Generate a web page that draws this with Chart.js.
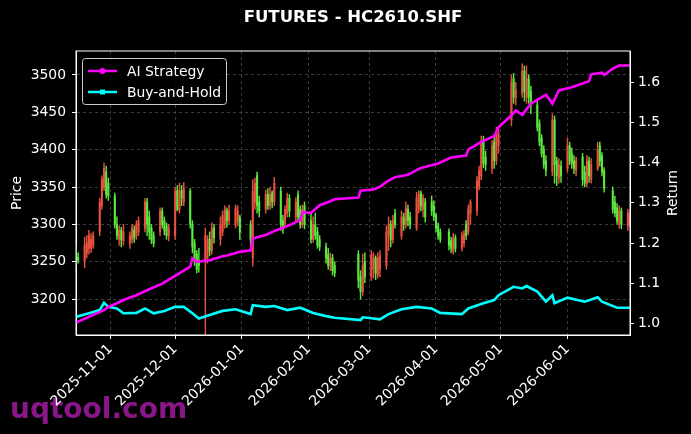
<!DOCTYPE html>
<html lang="en">
<head>
    <meta charset="UTF-8">
    <title>FUTURES - HC2610.SHF</title>
    <script src="https://cdn.jsdelivr.net/npm/chart.js"></script>
    <style>
        html, body { margin: 0; padding: 0; background: #000; }
        canvas { display: block; }
    </style>
</head>
<body>
    <canvas id="chart" width="691" height="434"></canvas>

    <script>
        // daily candles (trading days only)
        const dates = [
            '2025-10-16','2025-10-17','2025-10-20','2025-10-21','2025-10-22','2025-10-23','2025-10-24','2025-10-27','2025-10-28','2025-10-29','2025-10-30','2025-10-31',
            '2025-11-03','2025-11-04','2025-11-05','2025-11-06','2025-11-07','2025-11-10','2025-11-11','2025-11-12','2025-11-13','2025-11-14',
            '2025-11-17','2025-11-18','2025-11-19','2025-11-20','2025-11-21','2025-11-24','2025-11-25','2025-11-26','2025-11-27','2025-11-28',
            '2025-12-01','2025-12-02','2025-12-03','2025-12-04','2025-12-05','2025-12-08','2025-12-09','2025-12-10','2025-12-11','2025-12-12',
            '2025-12-15','2025-12-16','2025-12-17','2025-12-18','2025-12-19','2025-12-22','2025-12-23','2025-12-24','2025-12-25','2025-12-26',
            '2025-12-29','2025-12-30','2025-12-31',
            '2026-01-05','2026-01-06','2026-01-07','2026-01-08','2026-01-09','2026-01-12','2026-01-13','2026-01-14','2026-01-15','2026-01-16',
            '2026-01-19','2026-01-20','2026-01-21','2026-01-22','2026-01-23','2026-01-26','2026-01-27','2026-01-28','2026-01-29','2026-01-30',
            '2026-02-02','2026-02-03','2026-02-04','2026-02-05','2026-02-06','2026-02-09','2026-02-10','2026-02-11','2026-02-12','2026-02-13',
            '2026-02-24','2026-02-25','2026-02-26','2026-02-27',
            '2026-03-02','2026-03-03','2026-03-04','2026-03-05','2026-03-06','2026-03-09','2026-03-10','2026-03-11','2026-03-12','2026-03-13',
            '2026-03-16','2026-03-17','2026-03-18','2026-03-19','2026-03-20','2026-03-23','2026-03-24','2026-03-25','2026-03-26','2026-03-27',
            '2026-03-30','2026-03-31',
            '2026-04-01','2026-04-02','2026-04-03','2026-04-07','2026-04-08','2026-04-09','2026-04-10','2026-04-13','2026-04-14','2026-04-15',
            '2026-04-16','2026-04-17','2026-04-20','2026-04-21','2026-04-22','2026-04-23','2026-04-24','2026-04-27','2026-04-28','2026-04-29',
            '2026-04-30',
            '2026-05-06','2026-05-07','2026-05-08','2026-05-11','2026-05-12','2026-05-13','2026-05-14','2026-05-15','2026-05-18','2026-05-19',
            '2026-05-20','2026-05-21','2026-05-22','2026-05-25','2026-05-26','2026-05-27','2026-05-28','2026-05-29',
            '2026-06-01','2026-06-02','2026-06-03','2026-06-04','2026-06-05','2026-06-08','2026-06-09','2026-06-10','2026-06-11','2026-06-12',
            '2026-06-15','2026-06-16','2026-06-17','2026-06-18','2026-06-22','2026-06-23','2026-06-24','2026-06-25','2026-06-26','2026-06-29',
            '2026-06-30'
        ];
        const opens = [
            3268,3256,3252,3262,3268,3268,3272,3290,3325,3350,3370,3355,
            3338,3300,3280,3292,3278,3275,3280,3292,3285,3290,
            3295,3330,3310,3295,3285,3290,3318,3305,3298,3285,
            3285,3345,3320,3345,3330,3345,3300,3275,3260,3250,
            3250,3255,3280,3265,3295,3280,3290,3300,3318,3305,
            3300,3305,3310,
            3300,3255,3330,3365,3330,3320,3340,3325,3342,3330,
            3345,3305,3300,3315,3335,3310,3340,3320,3300,3325,
            3305,3280,3300,3290,3280,3270,3260,3245,3255,3245,
            3260,3230,3210,3250,
            3230,3240,3255,3232,3240,3245,3285,3300,3280,3315,
            3285,3310,3300,3320,3310,3295,3320,3342,3320,3330,
            3330,3325,
            3312,3298,3290,3290,3278,3265,3282,3268,3275,3300,
            3290,3315,3318,3350,3365,3412,3390,3375,3410,3385,
            3405,
            3440,3495,3470,3475,3505,3470,3495,3478,3460,3435,
            3415,3400,3385,3370,3440,3385,3362,3378,
            3375,3405,3395,3385,3372,3390,3370,3355,3385,3360,
            3375,3405,3392,3372,3345,3330,3322,3302,3318,3298,
            3300
        ];
        const highs = [
            3272,3262,3283,3285,3292,3288,3290,3335,3365,3382,3378,3362,
            3342,3310,3298,3296,3300,3290,3300,3298,3305,3310,
            3335,3335,3318,3300,3290,3322,3322,3310,3302,3300,
            3350,3352,3355,3352,3356,3348,3305,3280,3265,3268,
            3295,3285,3290,3302,3300,3310,3318,3325,3322,3326,
            3326,3325,3312,
            3305,3360,3362,3370,3338,3346,3348,3350,3345,3363,
            3350,3312,3325,3342,3340,3336,3345,3325,3326,3330,
            3315,3310,3315,3296,3285,3275,3268,3262,3260,3250,
            3265,3238,3260,3262,
            3265,3262,3258,3262,3265,3298,3310,3305,3312,3320,
            3318,3315,3330,3326,3316,3343,3345,3345,3340,3335,
            3338,3332,
            3315,3302,3294,3294,3283,3288,3286,3290,3292,3305,
            3326,3333,3364,3378,3418,3418,3398,3412,3416,3430,
            3428,
            3500,3502,3490,3515,3512,3512,3500,3485,3465,3440,
            3420,3405,3392,3448,3445,3390,3388,3385,
            3415,3410,3402,3392,3390,3395,3378,3392,3390,3388,
            3410,3410,3396,3376,3350,3338,3328,3325,3322,3320,
            3318
        ];
        const lows = [
            3245,3248,3242,3255,3260,3262,3268,3285,3320,3345,3335,3332,
            3295,3280,3272,3270,3272,3268,3275,3276,3280,3285,
            3290,3285,3280,3274,3270,3285,3295,3286,3280,3278,
            3280,3318,3315,3325,3325,3295,3262,3245,3235,3236,
            3140,3248,3258,3260,3275,3272,3285,3295,3296,3300,
            3295,3298,3280,
            3272,3244,3320,3315,3310,3315,3320,3320,3322,3325,
            3292,3288,3295,3310,3310,3305,3305,3295,3296,3294,
            3275,3276,3280,3268,3265,3248,3240,3238,3232,3230,
            3215,3200,3205,3222,
            3225,3228,3226,3228,3230,3240,3265,3270,3275,3295,
            3280,3292,3295,3298,3294,3292,3315,3318,3310,3303,
            3312,3305,
            3290,3280,3276,3266,3262,3260,3263,3264,3270,3280,
            3286,3300,3312,3346,3360,3376,3372,3368,3375,3380,
            3395,
            3432,3462,3460,3470,3465,3462,3462,3448,3425,3405,
            3390,3375,3365,3365,3355,3352,3355,3356,
            3370,3380,3375,3368,3365,3352,3350,3350,3356,3355,
            3372,3378,3365,3343,3315,3310,3300,3295,3294,3292,
            3296
        ];
        const closes = [
            3250,3252,3272,3275,3285,3280,3285,3330,3360,3375,3340,3338,
            3300,3285,3292,3280,3290,3285,3295,3282,3300,3305,
            3330,3300,3290,3280,3275,3318,3300,3292,3285,3295,
            3345,3320,3345,3335,3348,3300,3270,3255,3240,3245,
            3285,3280,3265,3295,3282,3300,3312,3320,3305,3318,
            3322,3318,3290,
            3280,3345,3355,3325,3318,3340,3325,3340,3330,3355,
            3300,3295,3320,3335,3318,3330,3310,3300,3320,3300,
            3280,3300,3285,3272,3270,3255,3245,3255,3238,3235,
            3225,3210,3245,3230,
            3260,3255,3235,3255,3258,3290,3300,3280,3305,3300,
            3310,3300,3322,3305,3300,3335,3340,3325,3335,3310,
            3318,3310,
            3295,3285,3280,3272,3268,3282,3268,3285,3288,3285,
            3320,3330,3358,3372,3410,3382,3380,3405,3385,3420,
            3422,
            3490,3470,3480,3505,3478,3495,3470,3462,3430,3410,
            3395,3380,3372,3440,3380,3365,3380,3365,
            3405,3385,3382,3375,3385,3360,3355,3385,3365,3380,
            3400,3385,3370,3348,3320,3315,3305,3318,3300,3315,
            3312
        ];

        // equity curves, read at the dates where they change shape
        const aiDates = [
            '2025-10-16','2025-10-22','2025-10-29','2025-10-31','2025-11-04','2025-11-07','2025-11-13','2025-11-19','2025-11-25','2025-12-01',
            '2025-12-04','2025-12-08','2025-12-09','2025-12-11','2025-12-17','2025-12-23','2025-12-26','2025-12-31','2026-01-05','2026-01-06',
            '2026-01-12','2026-01-16','2026-01-22','2026-01-28','2026-01-29','2026-02-02','2026-02-06','2026-02-11','2026-02-13','2026-02-24',
            '2026-02-25','2026-03-03','2026-03-06','2026-03-09','2026-03-13','2026-03-19','2026-03-25','2026-04-02','2026-04-08','2026-04-15',
            '2026-04-16','2026-04-22','2026-04-27','2026-04-28','2026-04-30','2026-05-06','2026-05-08','2026-05-11','2026-05-15','2026-05-22',
            '2026-05-25','2026-05-28','2026-06-03','2026-06-10','2026-06-11','2026-06-12','2026-06-17','2026-06-18','2026-06-22','2026-06-25',
            '2026-06-30'
        ];
        const aiValues = [
            1.002,1.016,1.033,1.041,1.050,1.058,1.070,1.085,1.099,1.118,
            1.128,1.141,1.162,1.153,1.157,1.167,1.170,1.178,1.182,1.211,
            1.220,1.230,1.242,1.257,1.277,1.275,1.294,1.304,1.309,1.313,
            1.330,1.333,1.340,1.352,1.364,1.370,1.387,1.398,1.413,1.418,
            1.433,1.452,1.464,1.466,1.488,1.518,1.530,1.519,1.547,1.569,
            1.547,1.580,1.588,1.601,1.603,1.620,1.624,1.618,1.634,1.642,
            1.642
        ];
        const bhDates = [
            '2025-10-16','2025-10-22','2025-10-27','2025-10-29','2025-10-31','2025-11-04','2025-11-07','2025-11-13','2025-11-17','2025-11-21',
            '2025-11-26','2025-12-01','2025-12-05','2025-12-09','2025-12-12','2025-12-17','2025-12-23','2025-12-29','2026-01-05','2026-01-06',
            '2026-01-12','2026-01-16','2026-01-22','2026-01-28','2026-02-03','2026-02-09','2026-02-13','2026-02-25','2026-02-26','2026-03-03',
            '2026-03-06','2026-03-10','2026-03-16','2026-03-23','2026-03-30','2026-04-03','2026-04-13','2026-04-16','2026-04-23','2026-04-28',
            '2026-04-30','2026-05-07','2026-05-11','2026-05-13','2026-05-18','2026-05-22','2026-05-25','2026-05-26','2026-06-01','2026-06-09',
            '2026-06-15','2026-06-17','2026-06-24','2026-06-30'
        ];
        const bhValues = [
            1.016,1.025,1.033,1.051,1.041,1.037,1.025,1.026,1.037,1.025,
            1.031,1.041,1.041,1.025,1.012,1.021,1.031,1.035,1.023,1.045,
            1.041,1.043,1.033,1.039,1.026,1.018,1.014,1.008,1.015,1.012,
            1.010,1.023,1.035,1.041,1.037,1.026,1.023,1.037,1.050,1.058,
            1.070,1.091,1.087,1.093,1.079,1.054,1.070,1.050,1.064,1.054,
            1.065,1.054,1.039,1.039
        ];

        const monthTicks = ['2025-11-01','2025-12-01','2026-01-01','2026-02-01','2026-03-01','2026-04-01','2026-05-01','2026-06-01'];
        const priceTicks = [3200, 3250, 3300, 3350, 3400, 3450, 3500];
        const returnTicks = [1.0, 1.1, 1.2, 1.3, 1.4, 1.5, 1.6];

        const UP = '#e8503f';
        const DOWN = '#5ce83e';
        const FONT = 'DejaVu Sans';

        // x axis is in days since 2025-11-01
        const base = Date.UTC(2025, 10, 1);
        const dayNum = s => (Date.parse(s + 'T00:00:00Z') - base) / 86400000;
        const dayLabel = v => new Date(base + v * 86400000).toISOString().slice(0, 10);

        const candleColor = dates.map((d, i) => closes[i] >= opens[i] ? UP : DOWN);
        const wicks = dates.map((d, i) => ({x: dayNum(d), y: [lows[i], highs[i]]}));
        const bodies = dates.map((d, i) => ({x: dayNum(d), y: [opens[i], closes[i]]}));

        const chartFrame = {
            id: 'chartFrame',
            beforeDraw(chart) {
                const c = chart.ctx;
                c.save();
                c.fillStyle = '#000';
                c.fillRect(0, 0, chart.width, chart.height);
                c.fillStyle = '#8a168a';
                c.font = 'bold 28px "' + FONT + '"';
                c.textBaseline = 'alphabetic';
                c.fillText('uqtool.com', 10, 418);
                c.restore();
            },
            afterDatasetsDraw(chart) {
                const a = chart.chartArea;
                const c = chart.ctx;
                c.save();
                c.strokeStyle = '#fff';
                c.lineWidth = 1;
                c.strokeRect(a.left, a.top, a.right - a.left, a.bottom - a.top);
                c.restore();
            },
            afterDraw(chart) {
                const a = chart.chartArea;
                const c = chart.ctx;
                const mid = (a.top + a.bottom) / 2;
                c.save();

                // title, centred over the plot area
                c.fillStyle = '#fff';
                c.font = 'bold 16.5px "' + FONT + '"';
                c.textAlign = 'center';
                c.textBaseline = 'middle';
                c.fillText('FUTURES - HC2610.SHF', (a.left + a.right) / 2, 18);

                c.font = '13.9px "' + FONT + '"';
                [['Price', 17], ['Return', 673]].forEach(([t, x]) => {
                    c.save();
                    c.translate(x, mid);
                    c.rotate(-Math.PI / 2);
                    c.fillText(t, 0, 0);
                    c.restore();
                });

                // legend box
                const lx = a.left + 6, ly = a.top + 7, lw = 144, lh = 46;
                c.beginPath();
                c.roundRect(lx + 0.5, ly + 0.5, lw, lh, 3);
                c.fillStyle = 'rgba(0,0,0,0.8)';
                c.fill();
                c.strokeStyle = '#cccccc';
                c.lineWidth = 1;
                c.stroke();
                const items = [
                    {label: 'AI Strategy', color: '#ff00ff', y: ly + 13, mark: 'circle'},
                    {label: 'Buy-and-Hold', color: '#00ffff', y: ly + 34, mark: 'square'}
                ];
                items.forEach(it => {
                    c.strokeStyle = it.color;
                    c.fillStyle = it.color;
                    c.lineWidth = 2.5;
                    c.beginPath();
                    c.moveTo(lx + 6, it.y);
                    c.lineTo(lx + 35, it.y);
                    c.stroke();
                    if (it.mark === 'circle') {
                        c.beginPath();
                        c.arc(lx + 20.5, it.y, 3, 0, Math.PI * 2);
                        c.fill();
                    } else {
                        c.fillRect(lx + 18, it.y - 2.5, 5, 5);
                    }
                    c.fillStyle = '#fff';
                    c.textAlign = 'left';
                    c.fillText(it.label, lx + 45, it.y + 1);
                });
                c.restore();
            }
        };

        const gridOpts = {color: '#4a4a4a', lineWidth: 0.8, tickColor: '#fff', tickWidth: 1, tickLength: 4};

        const ctx = document.getElementById('chart').getContext('2d');
        const chart = new Chart(ctx, {
            type: 'bar',
            data: {
                datasets: [
                    {
                        type: 'line', label: 'AI Strategy', yAxisID: 'y1', order: 0,
                        data: aiDates.map((d, i) => ({x: dayNum(d), y: aiValues[i]})),
                        borderColor: '#ff00ff', borderWidth: 2.6, pointRadius: 0, tension: 0
                    },
                    {
                        type: 'line', label: 'Buy-and-Hold', yAxisID: 'y1', order: 0,
                        data: bhDates.map((d, i) => ({x: dayNum(d), y: bhValues[i]})),
                        borderColor: '#00ffff', borderWidth: 2.6, pointRadius: 0, tension: 0
                    },
                    {
                        label: 'wick', yAxisID: 'y', order: 2, data: wicks,
                        backgroundColor: candleColor, barThickness: 0.8, grouped: false, borderWidth: 0
                    },
                    {
                        label: 'body', yAxisID: 'y', order: 1, data: bodies,
                        backgroundColor: candleColor, barThickness: 1.4, grouped: false, borderWidth: 0
                    }
                ]
            },
            options: {
                responsive: false,
                animation: false,
                devicePixelRatio: 1,
                layout: {padding: {top: 51, left: 0, right: 0, bottom: 0}},
                plugins: {
                    legend: {display: false},
                    tooltip: {enabled: false},
                    title: {display: false}
                },
                scales: {
                    x: {
                        type: 'linear',
                        min: dayNum(dates[0]),
                        max: dayNum(dates[dates.length - 1]),
                        offset: false,
                        afterBuildTicks: s => { s.ticks = monthTicks.map(d => ({value: dayNum(d)})); },
                        afterFit: s => { s.height = 99; },
                        grid: Object.assign({offset: false}, gridOpts),
                        border: {color: '#fff', width: 1, dash: [3, 3]},
                        ticks: {
                            color: '#fff', font: {family: FONT, size: 13.9},
                            autoSkip: false, minRotation: 45, maxRotation: 45, padding: 2,
                            callback: v => dayLabel(v)
                        }
                    },
                    y: {
                        position: 'left',
                        min: 3152, max: 3532,
                        afterBuildTicks: s => { s.ticks = priceTicks.map(v => ({value: v})); },
                        afterFit: s => { s.width = 76; },
                        grid: gridOpts,
                        border: {color: '#fff', width: 1, dash: [3, 3]},
                        ticks: {color: '#fff', font: {family: FONT, size: 13.9}, padding: 6, callback: v => String(v)}
                    },
                    y1: {
                        position: 'right',
                        min: 0.971, max: 1.678,
                        afterBuildTicks: s => { s.ticks = returnTicks.map(v => ({value: v})); },
                        afterFit: s => { s.width = 61; },
                        grid: {drawOnChartArea: false, color: '#fff', tickColor: '#fff', tickWidth: 1, tickLength: 4},
                        border: {color: '#fff', width: 1},
                        ticks: {color: '#fff', font: {family: FONT, size: 13.9}, padding: 4, callback: v => v.toFixed(1)}
                    }
                }
            },
            plugins: [chartFrame]
        });
    </script>
</body>
</html>
